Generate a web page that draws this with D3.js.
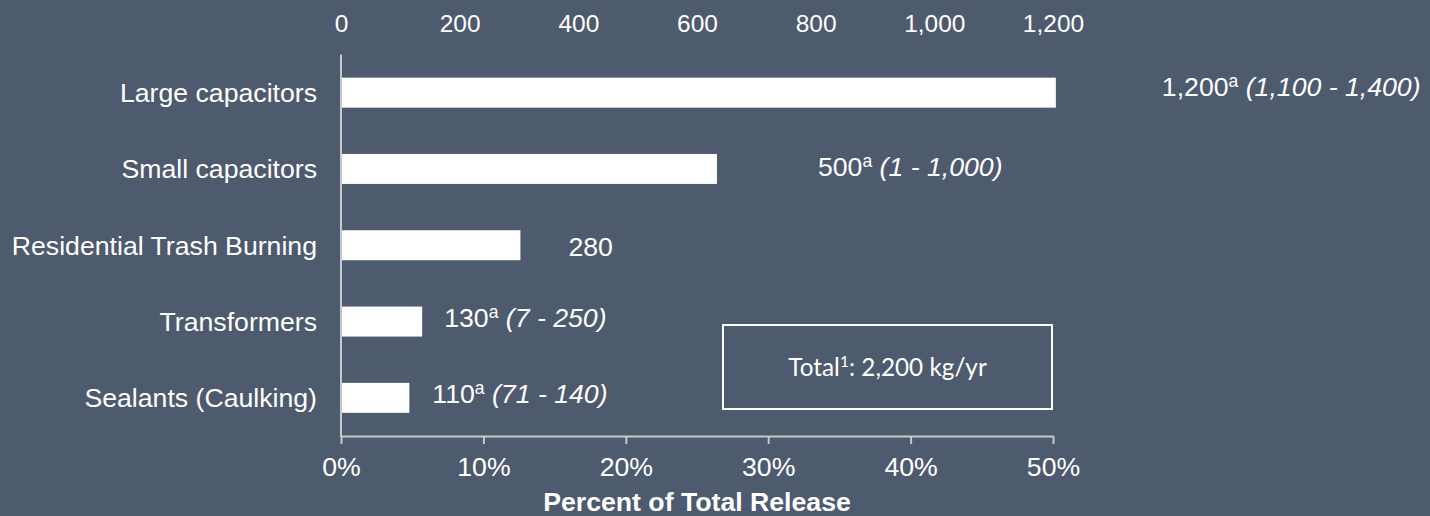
<!DOCTYPE html>
<html>
<head>
<meta charset="utf-8">
<script src="https://cdn.jsdelivr.net/npm/d3@7"></script>
<style>
  html, body { margin: 0; padding: 0; background: #4e5a6e; }
  svg { display: block; }
  text { font-family: "Liberation Sans", Arial, sans-serif; fill: #ffffff; }
</style>
</head>
<body>
<svg id="chart" width="1430" height="516"></svg>
<script>
// ---- data ----
const categories = ["Large capacitors", "Small capacitors", "Residential Trash Burning", "Transformers", "Sealants (Caulking)"];
const percentValues = [50.2, 26.4, 12.6, 5.7, 4.8];          // bar length, % of total release
const releaseValues = ["1,200", "500", "280", "130", "110"]; // kg/yr labels
const footnoteA = [true, true, false, true, true];
const ranges = ["(1,100 - 1,400)", "(1 - 1,000)", "", "(7 - 250)", "(71 - 140)"];
const topTicks = [0, 200, 400, 600, 800, 1000, 1200];
const bottomTicks = [0, 10, 20, 30, 40, 50];
const xTitle = "Percent of Total Release";
const totalText = ["Total", "1", ": 2,200 kg/yr"];

// ---- layout ----
const svg = d3.select("#chart");
const mLeft = 341, mRight = 1053, mTop = 54.5, mBottom = 436;
const x = d3.scaleLinear().domain([0, 50]).range([mLeft, mRight]);
const xTop = d3.scaleLinear().domain([0, 1200]).range([mLeft, mRight]);
const y = d3.scaleBand().domain(categories).range([mTop, mBottom]).paddingInner(0.607).paddingOuter(0.3035);
const labelGap = [106, 101, 48, 22, 23];
const labelDy = [3.5, 7.4, 10.5, 5.4, 5];
const axisColor = "#c8c8c8";
const fs = 26.67;

// bars
svg.append("g").selectAll("rect").data(categories).join("rect")
  .attr("x", mLeft + 1)
  .attr("y", d => y(d))
  .attr("width", (d, i) => x(percentValues[i]) - mLeft - 1)
  .attr("height", y.bandwidth())
  .attr("fill", "#ffffff");

// bottom axis
const gb = svg.append("g").attr("transform", `translate(0,${mBottom})`)
  .call(d3.axisBottom(x).tickValues(bottomTicks).tickFormat(d => d + "%").tickSize(8).tickSizeOuter(0).tickPadding(13));
gb.select(".domain").attr("stroke", axisColor).attr("stroke-width", 2);
gb.selectAll(".tick line").attr("stroke", axisColor).attr("stroke-width", 2);
gb.selectAll(".tick text").attr("font-size", fs).attr("fill", "#fff")
  .attr("font-family", '"Liberation Sans", Arial, sans-serif');

// top axis (labels only)
const gt = svg.append("g").attr("transform", `translate(0,40)`)
  .call(d3.axisTop(xTop).tickValues(topTicks).tickFormat(d3.format(",")).tickSize(0).tickPadding(8));
gt.select(".domain").remove();
gt.selectAll(".tick text").attr("font-size", 24.5).attr("fill", "#fff")
  .attr("font-family", '"Liberation Sans", Arial, sans-serif');

// left axis line
svg.append("line").attr("x1", mLeft).attr("x2", mLeft).attr("y1", mTop).attr("y2", mBottom + 1)
  .attr("stroke", axisColor).attr("stroke-width", 2);

// category labels
svg.append("g").selectAll("text").data(categories).join("text")
  .attr("x", 317)
  .attr("y", d => y(d) + y.bandwidth() / 2)
  .attr("dy", "0.35em")
  .attr("text-anchor", "end")
  .attr("font-size", fs)
  .text(d => d);

// value labels
const vl = svg.append("g").selectAll("text").data(categories).join("text")
  .attr("x", (d, i) => x(percentValues[i]) + labelGap[i])
  .attr("y", (d, i) => y(d) + y.bandwidth() / 2 + labelDy[i])
  .attr("font-size", fs);
vl.each(function(d, i) {
  const t = d3.select(this);
  t.append("tspan").text(releaseValues[i]);
  if (footnoteA[i]) {
    t.append("tspan").attr("font-size", 17.5).attr("dy", -9).text("a");
    t.append("tspan").attr("dy", 9).attr("font-style", "italic").text("\u00a0" + ranges[i]);
  }
});

// total box
svg.append("rect").attr("x", 723).attr("y", 325).attr("width", 329).attr("height", 84)
  .attr("fill", "none").attr("stroke", "#ffffff").attr("stroke-width", 2);
const tt = svg.append("text").attr("x", 887.5).attr("y", 375.5).attr("text-anchor", "middle")
  .attr("font-size", 24.3).style("font-family", "Lato, 'Open Sans', sans-serif");
tt.append("tspan").text(totalText[0]);
tt.append("tspan").attr("font-size", 16).attr("dy", -9).text(totalText[1]);
tt.append("tspan").attr("dy", 9).text(totalText[2]);

// x title
svg.append("text").attr("x", (mLeft + mRight) / 2).attr("y", 511).attr("text-anchor", "middle")
  .attr("font-size", fs).attr("font-weight", "bold").text(xTitle);
</script>
</body>
</html>
